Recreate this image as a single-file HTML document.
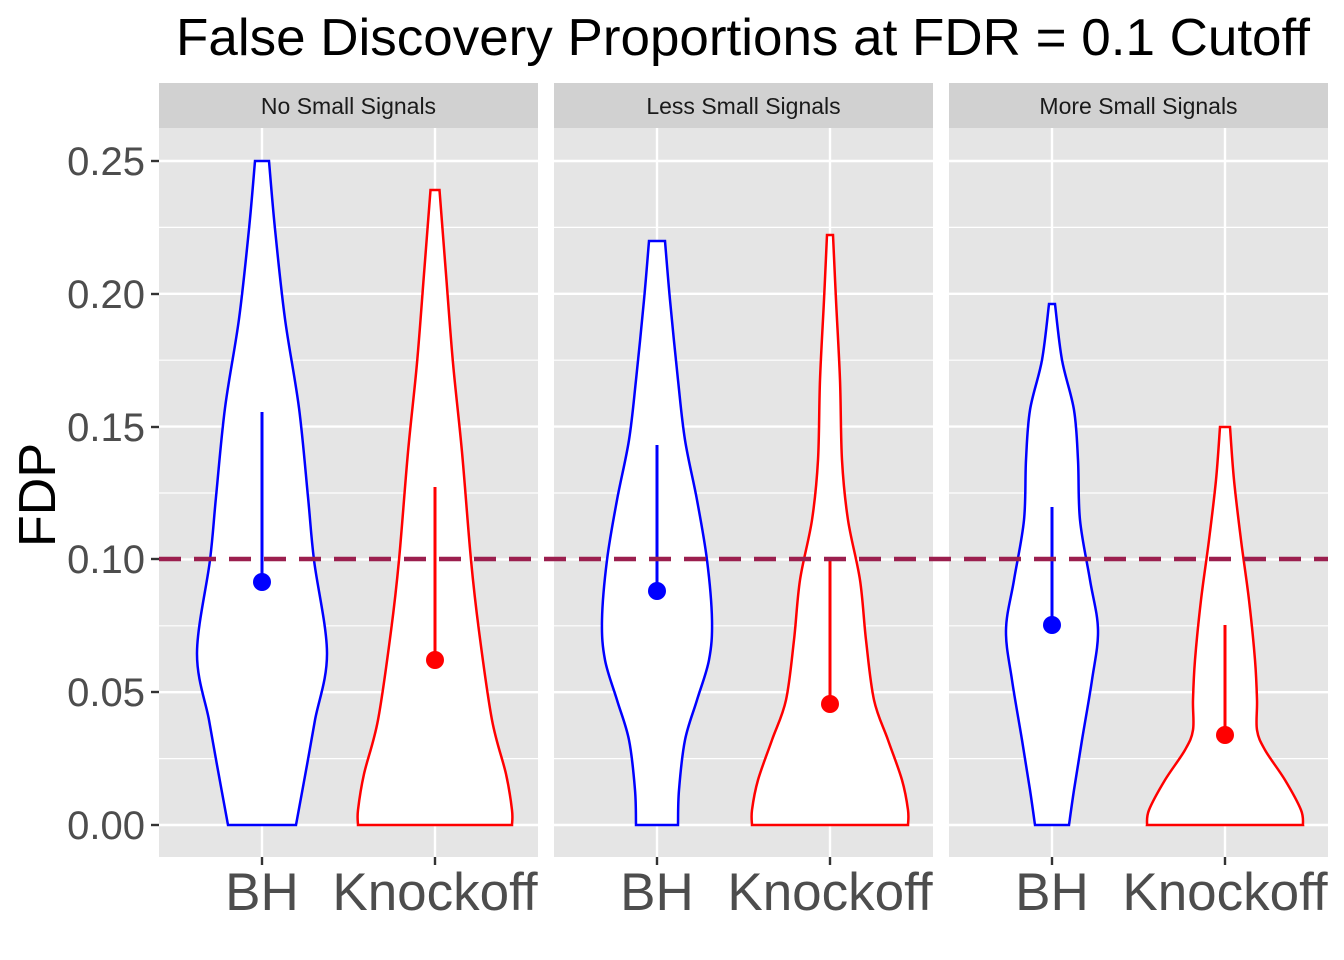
<!DOCTYPE html>
<html><head><meta charset="utf-8"><style>body{margin:0;background:#fff}svg{display:block}</style></head>
<body>
<svg id="s" width="1344" height="960" xmlns="http://www.w3.org/2000/svg" font-family="Liberation Sans, sans-serif">
<text x="743" y="55" font-size="52" text-anchor="middle" fill="#000" textLength="1134" lengthAdjust="spacingAndGlyphs">False Discovery Proportions at FDR = 0.1 Cutoff</text>
<text transform="translate(55,495) rotate(-90)" font-size="52" text-anchor="middle" fill="#000">FDP</text>
<g font-size="40" fill="#4d4d4d" text-anchor="end">
<text x="145" y="175">0.25</text><text x="145" y="308">0.20</text><text x="145" y="441">0.15</text>
<text x="145" y="573">0.10</text><text x="145" y="706">0.05</text><text x="145" y="839">0.00</text>
</g>
<g stroke="#333" stroke-width="2.4">
<line x1="151" x2="159" y1="161" y2="161"/><line x1="151" x2="159" y1="294" y2="294"/><line x1="151" x2="159" y1="427" y2="427"/>
<line x1="151" x2="159" y1="559" y2="559"/><line x1="151" x2="159" y1="692" y2="692"/><line x1="151" x2="159" y1="825" y2="825"/>
</g>
<g id="panels"></g>
<line x1="159" x2="1328" y1="559" y2="559" stroke="#9b1f4e" stroke-width="4.5" stroke-dasharray="22,13"/>
</svg>
<script>
const NS="http://www.w3.org/2000/svg",g=document.getElementById('panels');
function el(t,a,p){const e=document.createElementNS(NS,t);for(const k in a)e.setAttribute(k,a[k]);(p||g).appendChild(e);return e;}
const Y=v=>825-v*2656;
const names=["No Small Signals","Less Small Signals","More Small Signals"];
const px=[159,554,949];
px.forEach((x0,i)=>{
 el('rect',{x:x0,y:128,width:379,height:729,fill:'#e5e5e5'});
 for(let k=0;k<=10;k++){const y=Y(k*0.025);el('line',{x1:x0,x2:x0+379,y1:y,y2:y,stroke:'#fff','stroke-width':k%2?1.2:2.4});}
 [103,276].forEach(d=>{el('line',{x1:x0+d,x2:x0+d,y1:128,y2:857,stroke:'#fff','stroke-width':2.4});el('line',{x1:x0+d,x2:x0+d,y1:857,y2:865,stroke:'#333','stroke-width':2.4});});
 el('rect',{x:x0,y:83,width:379,height:45,fill:'#d1d1d1'});
 const t=el('text',{x:x0+189.5,y:114,'font-size':23,'text-anchor':'middle',fill:'#1a1a1a'});t.textContent=names[i];
 [['BH',103],['Knockoff',276]].forEach(([s,d])=>{const t=el('text',{x:x0+d,y:910,'font-size':53,'text-anchor':'middle',fill:'#4d4d4d'});t.textContent=s;});
});
function smooth(pts){let d='';for(let i=0;i<pts.length-1;i++){const p0=pts[Math.max(i-1,0)],p1=pts[i],p2=pts[i+1],p3=pts[Math.min(i+2,pts.length-1)];
 const c1=[p1[0]+(p2[0]-p0[0])/6,p1[1]+(p2[1]-p0[1])/6],c2=[p2[0]-(p3[0]-p1[0])/6,p2[1]-(p3[1]-p1[1])/6];
 d+=` C${c1[0]},${c1[1]} ${c2[0]},${c2[1]} ${p2[0]},${p2[1]}`;}return d;}
function violin(cx,prof,col){
 const R=prof.map(([y,h])=>[cx+h,y]),L=prof.slice().reverse().map(([y,h])=>[cx-h,y]);
 let d=`M${cx-prof[0][1]},${prof[0][0]} L${R[0][0]},${R[0][1]}`+smooth(R)+` L${L[0][0]},${L[0][1]}`+smooth(L)+' Z';
 el('path',{d,fill:'#fff',stroke:col,'stroke-width':2.5});
}
violin(262,[[161,7],[229,13],[319,23],[408,37],[497,46],[560,52],[653,65],[720,53],[765,45],[825,34]],'blue');
violin(435,[[190,4.5],[274,11],[363,18],[452,27],[560,36],[631,44],[720,57],[774,71],[810,77],[825,77]],'red');
violin(657,[[241,8],[300,13],[380,21],[440,28],[500,40],[560,50],[620,55],[660,52],[700,40],[740,28],[790,22],[825,21]],'blue');
violin(830,[[235,3],[300,6],[380,10],[460,12],[520,18],[580,30],[640,36],[700,44],[740,58],[780,72],[810,78],[825,78]],'red');
violin(1052,[[304,3],[360,10],[410,22],[460,26],[520,28],[580,38],[630,46],[680,40],[740,30],[790,22],[825,17]],'blue');
violin(1225,[[427,5],[480,9],[540,16],[600,24],[660,30],[700,32],[730,32],[750,40],[780,60],[810,76],[825,78]],'red');
[[262,412,582,'blue'],[435,487,660,'red'],[657,445,591,'blue'],[830,559,704,'red'],[1052,507,625,'blue'],[1225,625,735,'red']].forEach(([x,a,b,c])=>{
 el('line',{x1:x,x2:x,y1:a,y2:b,stroke:c,'stroke-width':3});el('circle',{cx:x,cy:b,r:9,fill:c});});
</script>
</body></html>
